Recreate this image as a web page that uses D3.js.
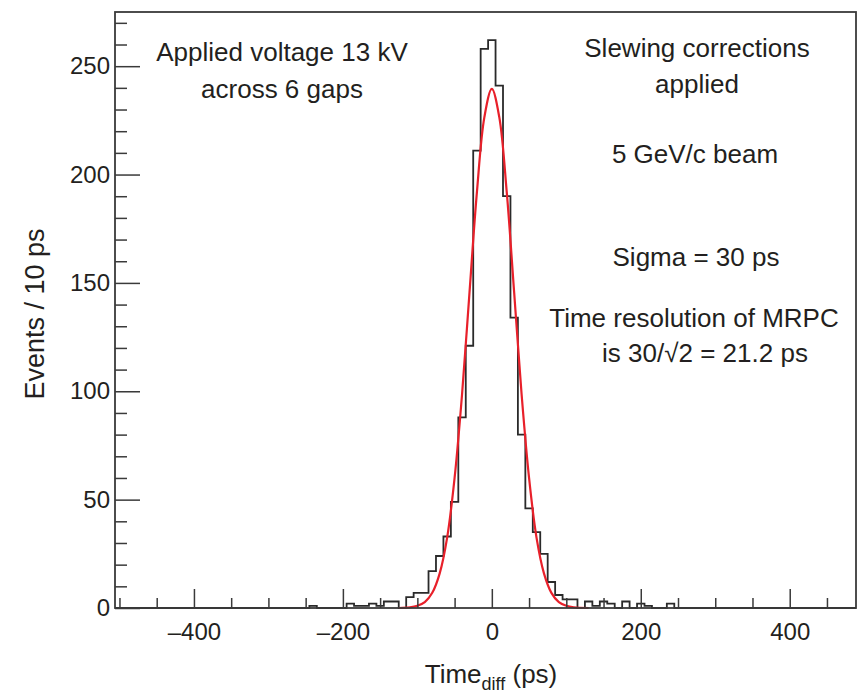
<!DOCTYPE html>
<html>
<head>
<meta charset="utf-8">
<script src="https://cdn.jsdelivr.net/npm/d3@7"></script>
<style>
  body { margin: 0; background: #fff; }
  svg { display: block; }
  text { fill: #231f20; font-family: "Liberation Sans", Arial, sans-serif; }
  .tick text { font-family: "Liberation Sans Narrow", "Liberation Sans", Arial, sans-serif; }
</style>
</head>
<body>
<svg id="chart"></svg>
<script>
// bin centres (ps), 10 ps bins
const binCenters = [-250, -240, -230, -220, -210, -200, -190, -180, -170, -160, -150, -140, -130, -120, -110,
  -100, -90, -80, -70, -60, -50, -40, -30, -20, -10, 0, 10, 20, 30, 40, 50, 60, 70, 80, 90,
  100, 110, 120, 130, 140, 150, 160, 170, 180, 190, 200, 210, 220, 230, 240, 250];
// events per bin
const binCounts = [0, 1, 0, 0, 0, 0, 2, 1, 1, 2, 1, 3, 3, 0, 5,
  7, 7, 17, 24, 33, 49, 88, 121, 211, 258, 262, 241, 190, 134, 80, 46, 35, 25, 12, 6,
  4, 4, 0, 3, 1, 3, 2, 0, 3, 0, 2, 1, 0, 0, 2, 0];

// red gaussian fit
const fitX = [-125, -110, -100, -90, -80, -70, -60, -50, -40, -30, -20, -10, 0, 10, 20, 30, 40, 50, 60, 70, 80, 90, 100, 110, 130];
const fitY = [0, 0.3, 1, 2.7, 7, 16, 32.5, 60, 98.5, 145.5, 192, 226.5, 239.5, 226.5, 192, 145.5, 98.5, 60, 32.5, 16, 7, 2.7, 1, 0.3, 0];

const xMajorTicks = [-400, -200, 0, 200, 400];
const xMinorTicks = [-500, -450, -350, -300, -250, -150, -100, -50, 50, 100, 150, 250, 300, 350, 450];
const yMajorTicks = [0, 50, 100, 150, 200, 250];
const yMinorTicks = [10, 20, 30, 40, 60, 70, 80, 90, 110, 120, 130, 140, 160, 170, 180, 190, 210, 220, 230, 240, 260, 270];

const leftNotes = ["Applied voltage 13 kV", "across 6 gaps"];
const rightNotes = ["Slewing corrections", "applied", "5 GeV/c beam", "Sigma = 30 ps", "Time resolution of MRPC", "is 30/\u221A2 = 21.2 ps"];

const W = 858, H = 697;
const margin = {top: 12, right: 2, bottom: 89, left: 115};
const width = W - margin.left - margin.right;
const height = H - margin.top - margin.bottom;
const axisColor = "#3a3a3a";

const svg = d3.select("#chart").attr("width", W).attr("height", H);
const g = svg.append("g").attr("transform", `translate(${margin.left},${margin.top})`);

const x = d3.scaleLinear().domain([-506, 489]).range([0, width]);
const y = d3.scaleLinear().domain([0, 275]).range([height, 0]);

// histogram outline as steps
const pts = [[-506, 0]];
binCenters.forEach((c, i) => {
  pts.push([c - 5, binCounts[i]]);
  pts.push([c + 5, binCounts[i]]);
});
pts.push([489, 0]);

const line = d3.line().x(d => x(d[0])).y(d => y(d[1]));

g.append("path")
  .datum(pts)
  .attr("d", line)
  .attr("fill", "none")
  .attr("stroke", "#2a2a2a")
  .attr("stroke-width", 1.8);

// fit curve
const fitLine = d3.line().x(d => x(d[0])).y(d => y(d[1])).curve(d3.curveCatmullRom);
g.append("path")
  .datum(fitX.map((v, i) => [v, fitY[i]]))
  .attr("d", fitLine)
  .attr("fill", "none")
  .attr("stroke", "#e8202a")
  .attr("stroke-width", 2.2);

// axes
const fmt = d => d < 0 ? "\u2013" + Math.abs(d) : String(d);

const xAxis = g.append("g")
  .attr("transform", `translate(0,${height})`)
  .call(d3.axisBottom(x).tickValues(xMajorTicks).tickSizeInner(-19).tickSizeOuter(0).tickPadding(13).tickFormat(fmt));
xAxis.selectAll("text").attr("font-size", 24).attr("dy", "0.8em");

g.append("g")
  .attr("transform", `translate(0,${height})`)
  .call(d3.axisBottom(x).tickValues(xMinorTicks).tickSizeInner(-10).tickSizeOuter(0).tickFormat(""));

const yAxis = g.append("g")
  .call(d3.axisLeft(y).tickValues(yMajorTicks).tickSizeInner(-25).tickSizeOuter(0).tickPadding(5));
yAxis.selectAll("text").attr("font-size", 24);

g.append("g")
  .call(d3.axisLeft(y).tickValues(yMinorTicks).tickSizeInner(-12).tickSizeOuter(0).tickFormat(""));

g.selectAll(".domain").attr("stroke", "none");
g.selectAll(".tick line").attr("stroke", axisColor).attr("stroke-width", 1.5);

g.append("rect")
  .attr("width", width)
  .attr("height", height)
  .attr("fill", "none")
  .attr("stroke", axisColor)
  .attr("stroke-width", 1.8);

// axis titles
svg.append("text")
  .attr("transform", `translate(44,314) rotate(-90)`)
  .attr("text-anchor", "middle")
  .attr("font-size", 27)
  .text("Events / 10 ps");

const xt = svg.append("text")
  .attr("x", 491)
  .attr("y", 683)
  .attr("text-anchor", "middle")
  .attr("font-size", 26);
xt.append("tspan").text("Time");
xt.append("tspan").attr("font-size", 18).attr("dy", 7).text("diff");
xt.append("tspan").attr("dy", -7).text(" (ps)");

// annotations
const leftY = [61, 98];
leftNotes.forEach((t, i) => {
  svg.append("text").attr("x", 282).attr("y", leftY[i])
    .attr("text-anchor", "middle").attr("font-size", 26).text(t);
});
const rightX = [697, 697, 695, 696, 694, 705];
const rightY = [57, 93, 163, 266, 327, 362];
rightNotes.forEach((t, i) => {
  svg.append("text").attr("x", rightX[i]).attr("y", rightY[i])
    .attr("text-anchor", "middle").attr("font-size", 26).text(t);
});
</script>
</body>
</html>
